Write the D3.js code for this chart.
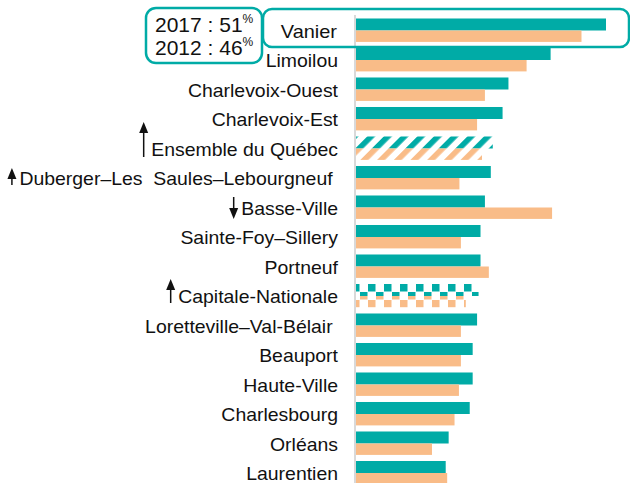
<!DOCTYPE html>
<html>
<head>
<meta charset="utf-8">
<script src="https://cdn.jsdelivr.net/npm/d3@7"></script>
<style>
  html, body { margin: 0; padding: 0; background: #fff; }
  svg { display: block; }
  text { font-family: "Liberation Sans", Arial, sans-serif; fill: #111; }
</style>
</head>
<body>
<svg id="chart" width="630" height="483"></svg>
<script>
// ---- Data ----
const categories = [
  "Vanier", "Limoilou", "Charlevoix-Ouest", "Charlevoix-Est", "Ensemble du Québec",
  "Duberger–Les  Saules–Lebourgneuf ", "Basse-Ville", "Sainte-Foy–Sillery", "Portneuf",
  "Capitale-Nationale", "Loretteville–Val-Bélair ", "Beauport", "Haute-Ville",
  "Charlesbourg", "Orléans", "Laurentien"
];
const values2017 = [51, 39.7, 31.1, 29.9, 27.9, 27.5, 26.3, 25.4, 25.4, 25.0, 24.7, 23.8, 23.8, 23.2, 18.9, 18.3];
const values2012 = [46, 34.8, 26.3, 24.7, 25.7, 21.1, 40.0, 21.4, 27.1, 22.4, 21.4, 21.4, 21.0, 20.1, 15.5, 18.6];
const fillKinds = ["solid","solid","solid","solid","stripes","solid","solid","solid","solid","checker","solid","solid","solid","solid","solid","solid"];
const trends = ["", "", "", "", "up", "up", "down", "", "", "up", "", "", "", "", "", ""];
const years = ["2017", "2012"];
const highlightValues = [51, 46];

// ---- Styles ----
const teal = "#00ABA6", orange = "#F9BC88";
const arrowExtent = { // [top offset, bottom offset] from label baseline
  "Ensemble du Québec": [-33.5, 1.5],
  "Duberger–Les  Saules–Lebourgneuf ": [-17, 0],
  "Basse-Ville": [-17.5, 4.5],
  "Capitale-Nationale": [-24, 0]
};

const svg = d3.select("#chart");
const defs = svg.append("defs");

function stripes(id, color) {
  const p = defs.append("pattern").attr("id", id).attr("patternUnits", "userSpaceOnUse")
    .attr("width", 11.8).attr("height", 11.8).attr("patternTransform", "rotate(45)");
  p.append("rect").attr("x", 0).attr("y", 0).attr("width", 5.6).attr("height", 11.8).attr("fill", color);
}
function checker(id, color) {
  const p = defs.append("pattern").attr("id", id).attr("patternUnits", "userSpaceOnUse")
    .attr("width", 16).attr("height", 16);
  p.append("rect").attr("x", 0).attr("y", 0).attr("width", 7.5).attr("height", 7.5).attr("fill", color);
  p.append("rect").attr("x", 8).attr("y", 8).attr("width", 7.5).attr("height", 7.5).attr("fill", color);
}
stripes("stripes-0", teal); stripes("stripes-1", orange);
checker("checker-0", teal); checker("checker-1", orange);

// ---- Scales ----
const x = d3.scaleLinear().domain([0, 55]).range([356, 356 + 55 * 4.902]);
const y = d3.scaleBand().domain(categories).range([15.75, 487.75]).paddingInner(0.186).paddingOuter(0.093);
const sub = d3.scaleBand().domain(years).range([0, y.bandwidth()]);

// axis line
const axis = d3.axisLeft(y).tickSize(0).tickFormat("");
svg.append("g").attr("transform", "translate(355,0)").call(axis)
  .call(g => g.select(".domain").attr("stroke", "#d9d9d9").attr("stroke-width", 2).attr("d", "M0,15V483"));

const rows = categories.map((c, i) => ({ c, i, v: [values2017[i], values2012[i]], kind: fillKinds[i], trend: trends[i] }));

const gRow = svg.append("g").selectAll("g").data(rows).join("g")
  .attr("transform", d => `translate(0,${y(d.c)})`);

gRow.selectAll("rect").data(d => d.v.map((v, k) => ({ v, k, kind: d.kind })))
  .join("rect")
  .attr("x", x(0))
  .attr("y", d => sub(years[d.k]))
  .attr("width", d => x(d.v) - x(0))
  .attr("height", d => d.k === 0 ? sub.bandwidth() : sub.bandwidth() - 0.6)
  .attr("fill", d => d.kind === "solid" ? (d.k === 0 ? teal : orange) : `url(#${d.kind}-${d.k})`);

// labels
const labelX = 338, stretch = 1.08;
rows.forEach(d => {
  if (d.i === 0) return;
  const base = y(d.c) + y.bandwidth() / 2 + 7;
  const t = svg.append("text")
    .attr("transform", `translate(${labelX},${base}) scale(${stretch},1)`)
    .attr("text-anchor", "end")
    .style("white-space", "pre")
    .attr("font-size", 18)
    .text(d.c);
  if (d.trend) {
    const len = t.node().getComputedTextLength() * stretch;
    const ax = labelX - len - 7.5;
    const ext = arrowExtent[d.c];
    const top = base + ext[0], bot = base + ext[1];
    const g = svg.append("g");
    if (d.trend === "up") {
      g.append("line").attr("x1", ax).attr("x2", ax).attr("y1", top + 8).attr("y2", bot)
        .attr("stroke", "#111").attr("stroke-width", 1.5);
      g.append("path").attr("d", `M${ax - 4.5},${top + 11}L${ax},${top}L${ax + 4.5},${top + 11}Z`).attr("fill", "#111");
    } else {
      g.append("line").attr("x1", ax).attr("x2", ax).attr("y1", top).attr("y2", bot - 8)
        .attr("stroke", "#111").attr("stroke-width", 1.5);
      g.append("path").attr("d", `M${ax - 4.5},${bot - 11}L${ax},${bot}L${ax + 4.5},${bot - 11}Z`).attr("fill", "#111");
    }
  }
});

// highlighted first row
svg.append("rect").attr("x", 263).attr("y", 9).attr("width", 366).attr("height", 38).attr("rx", 9)
  .attr("fill", "none").attr("stroke", teal).attr("stroke-width", 2.5);
svg.append("text")
  .attr("transform", `translate(337,${y(categories[0]) + y.bandwidth() / 2 + 7.5}) scale(1.05,1)`)
  .attr("text-anchor", "end").attr("font-size", 19).text(categories[0]);

svg.append("rect").attr("x", 146).attr("y", 8).attr("width", 116).attr("height", 55).attr("rx", 10)
  .attr("fill", "none").attr("stroke", teal).attr("stroke-width", 2.5);
years.forEach((yr, k) => {
  const t = svg.append("text").attr("x", 155).attr("y", 31.5 + k * 23).attr("font-size", 21);
  t.append("tspan").text(`${yr} : ${highlightValues[k]}`);
  t.append("tspan").attr("font-size", 12).attr("dy", -9).text("%");
});
</script>
</body>
</html>
